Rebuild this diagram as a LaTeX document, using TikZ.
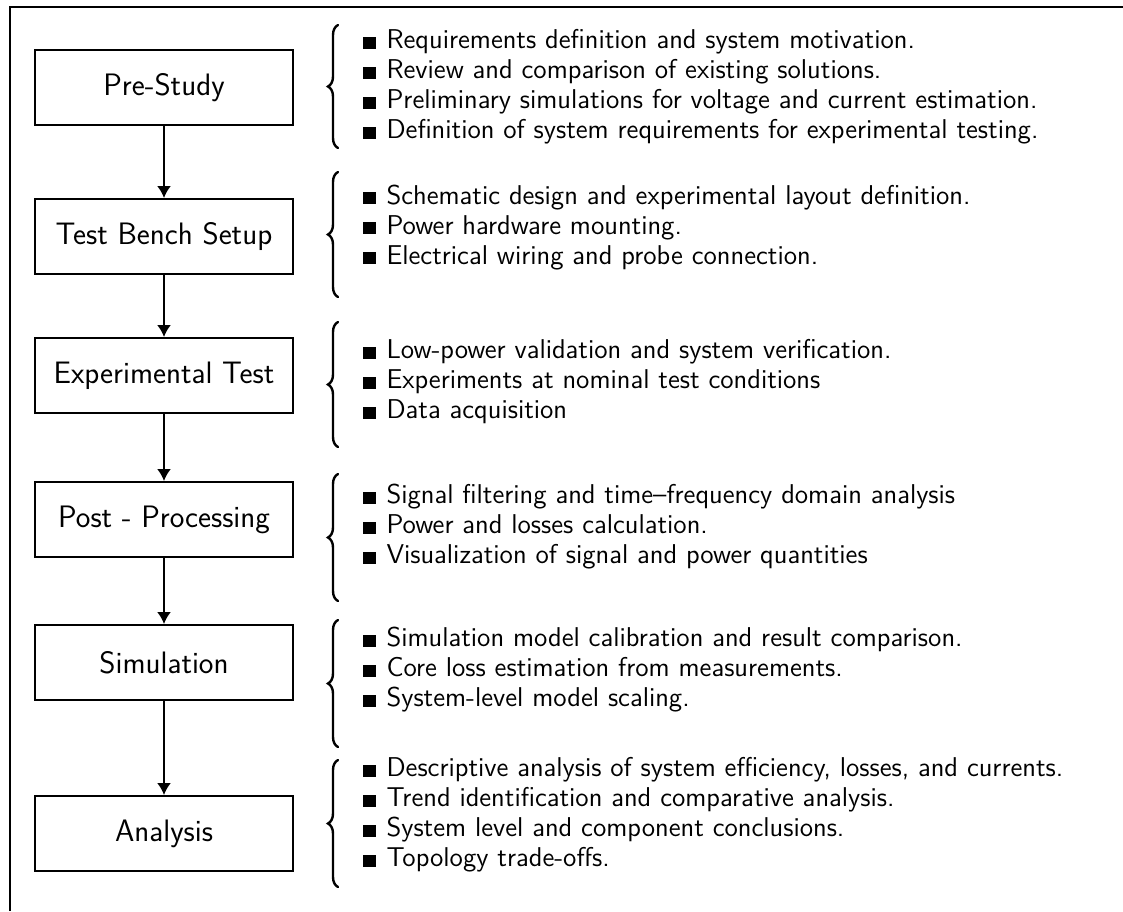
\documentclass[tikz,border=0pt]{standalone}
\usepackage{amssymb}
\usetikzlibrary{arrows.meta,decorations.pathreplacing}
\renewcommand{\familydefault}{\sfdefault}
\newcommand{\itm}{\rule{0.45em}{0.45em}\hspace{0.4em}}
\begin{document}
\begin{tikzpicture}[x=0.5pt,y=-0.5pt,
  stage/.style={draw,line width=1pt,minimum width=129pt,minimum height=37.5pt,inner sep=0pt,font=\fontsize{15.5}{17}\selectfont\sffamily},
  items/.style={anchor=west,align=left,inner sep=0pt,font=\fontsize{13.6}{15}\selectfont\sffamily},
  bracedec/.style={decorate,decoration={brace,amplitude=5pt,aspect=0.5},line width=1.2pt,line cap=round},
  flow/.style={line width=1pt,-{Latex[length=6pt,width=7pt]}}]
\useasboundingbox (0,0) rectangle (1123,911);
\draw[line width=1pt] (9.5,911) -- (9.5,6.5) -- (1123,6.5);

\node[stage] (s1) at (164,87.5) {Pre-Study};
\node[stage] (s2) at (164,236.5) {Test Bench Setup};
\node[stage] (s3) at (164,375.5) {Experimental Test};
\node[stage] (s4) at (164,519.5) {Post - Processing};
\node[stage] (s5) at (164,662.5) {Simulation};
\node[stage] (s6) at (164,833.5) {Analysis};

\draw[flow] (s1) -- (s2);
\draw[flow] (s2) -- (s3);
\draw[flow] (s3) -- (s4);
\draw[flow] (s4) -- (s5);
\draw[flow] (s5) -- (s6);

\coordinate (b1a) at (338,148); \coordinate (b1b) at (338,25);
\coordinate (b2a) at (338,297); \coordinate (b2b) at (338,172);
\coordinate (b3a) at (338,447); \coordinate (b3b) at (338,322);
\coordinate (b4a) at (338,601); \coordinate (b4b) at (338,474);
\coordinate (b5a) at (338,747); \coordinate (b5b) at (338,620);
\coordinate (b6a) at (338,887); \coordinate (b6b) at (338,760);
\draw[bracedec] (b1a) -- (b1b);
\draw[bracedec] (b2a) -- (b2b);
\draw[bracedec] (b3a) -- (b3b);
\draw[bracedec] (b4a) -- (b4b);
\draw[bracedec] (b5a) -- (b5b);
\draw[bracedec] (b6a) -- (b6b);

\node[items] (t1) at (363,87) {\itm Requirements definition and system motivation.\\ \itm Review and comparison of existing solutions.\\ \itm Preliminary simulations for voltage and current estimation.\\ \itm Definition of system requirements for experimental testing.};
\node[items] (t2) at (363,227.5) {\itm Schematic design and experimental layout definition.\\ \itm Power hardware mounting.\\ \itm Electrical wiring and probe connection.};
\node[items] (t3) at (363,382) {\itm Low-power validation and system verification.\\ \itm Experiments at nominal test conditions\\ \itm Data acquisition};
\node[items] (t4) at (363,527) {\itm Signal filtering and time--frequency domain analysis\\ \itm Power and losses calculation.\\ \itm Visualization of signal and power quantities};
\node[items] (t5) at (363,670) {\itm Simulation model calibration and result comparison.\\ \itm Core loss estimation from measurements.\\ \itm System-level model scaling.};
\node[items] (t6) at (363,815) {\itm Descriptive analysis of system efficiency, losses, and currents.\\ \itm Trend identification and comparative analysis.\\ \itm System level and component conclusions.\\ \itm Topology trade-offs.};
\end{tikzpicture}
\end{document}
